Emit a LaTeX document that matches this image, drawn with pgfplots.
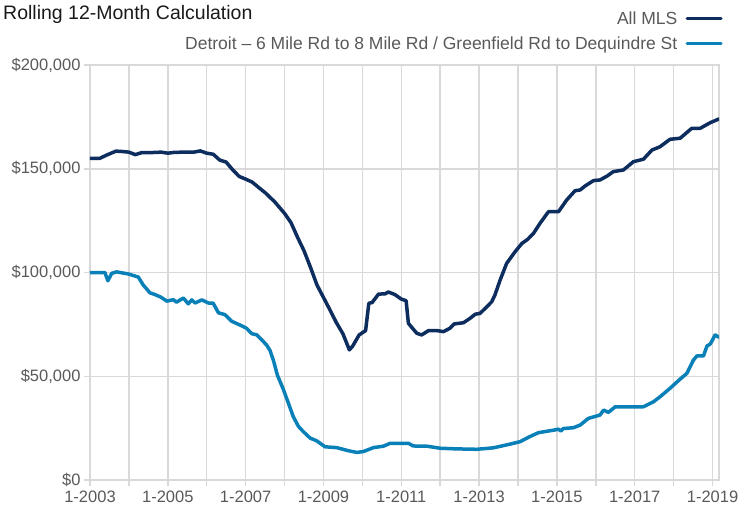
\documentclass[border=0pt]{standalone}
\usepackage{fontspec}
\setmainfont{Liberation Sans}
\usepackage{pgfplots}
\pgfplotsset{compat=1.18}
\definecolor{navy}{HTML}{0C2D5E}
\definecolor{lblue}{HTML}{0A80B8}
\definecolor{gridgray}{HTML}{D9D9D9}
\definecolor{txtgray}{HTML}{595959}
\begin{document}
\begin{tikzpicture}[x=1pt,y=1pt]
\useasboundingbox (0,0) rectangle (738,515);
\node[anchor=base west, font=\fontsize{19.5}{22}\selectfont, text=black!90, inner sep=0pt] at (3,495) {Rolling 12-Month Calculation};
\begin{axis}[at={(90pt,35pt)}, anchor=south west, scale only axis, width=629pt, height=415pt,
 xmin=0, xmax=194, ymin=0, ymax=200000,
 xtick={0,12,...,192},
 xticklabels={1-2003,,1-2005,,1-2007,,1-2009,,1-2011,,1-2013,,1-2015,,1-2017,,1-2019},
 ytick={0,50000,100000,150000,200000},
 yticklabels={{\$0},{\$50,000},{\$100,000},{\$150,000},{\$200,000}},
 scaled y ticks=false,
 grid=major, major grid style={gridgray, line width=1.5pt},
 axis line style={gridgray, line width=1.5pt},
 tick style={gridgray, line width=1.5pt}, tick align=outside, major tick length=6pt,
 tick pos=left,
 xticklabel style={yshift=-1pt},
 ticklabel style={text=txtgray, font=\fontsize{16.5}{19}\selectfont},
 legend style={at={(rel axis cs:1.006,1.134)}, anchor=north east, draw=none, fill=none,
   font=\fontsize{17.5}{20}\selectfont, text=txtgray, row sep=7pt, inner sep=0pt},
 legend cell align=right,
 legend plot pos=right,
 legend image code/.code={\path (0pt,0pt); \draw[#1, line width=3pt] (6pt,0pt) -- (40pt,0pt);},
 every axis plot/.append style={line width=3.5pt, line join=round, line cap=round},
]
\addplot[navy] coordinates {
(0,155000)(3,155000)(5,156500)(8,158500)(10,158300)(12,158000)(14,156800)(16,157800)
(19,157800)(22,158000)(24,157500)(26,157900)(29,158000)(32,158000)(34,158600)(36,157500)
(38,157000)(40,154200)(42,153200)(44,149500)(46,146300)(48,145000)(50,143600)(52,141000)
(54,138500)(57,134000)(60,128500)(62,124000)(64,117000)(66,110500)(68,102500)(70,94000)
(72,88000)(74,82000)(76,75800)(78,70500)(80,62700)(81,64500)(83,69900)(85,72000)
(86,85200)(87,85500)(89,89600)(91,89700)(92,90600)(94,89400)(96,87200)(97.5,86400)
(98.2,75500)(99,74000)(100.8,70700)(102.3,69900)(104.4,72000)(107,72000)(109,71500)
(111,73100)(112.3,75200)(115.2,75800)(117.2,77900)(118.8,79900)(120.3,80300)(122.4,83500)
(123.9,85900)(124.9,89200)(126.5,96400)(128.5,104400)(131.1,110000)(133.2,114000)
(135,116000)(136.8,118900)(138.8,123700)(141.4,129300)(144.5,129300)(147,134900)
(149.6,139400)(151.2,139800)(152.7,141700)(155.3,144300)(157.3,144600)(159.5,146500)
(161.4,148600)(164.5,149400)(167.6,153400)(170.7,154600)(173.3,159000)(175.8,160600)
(178.9,164200)(182,164700)(185.6,169500)(188.2,169500)(191.3,172200)(194,174000)
};
\addlegendentry{All MLS}
\addplot[lblue] coordinates {
(0,100000)(4.6,100000)(5.5,96000)(6.7,99600)(8.2,100300)(11.8,99300)(14.9,97800)
(16.4,94000)(18.5,90200)(20,89400)(22,88000)(23.7,86200)(25.7,86900)(26.7,85700)
(28.8,87700)(30.3,84900)(31.4,86800)(32.4,85300)(34.5,86800)(36.5,85300)(38,85200)
(39.6,80600)(41.6,79700)(43.7,76500)(46.8,74300)(48.3,73100)(49.9,70500)(51.4,70000)
(53,67500)(54.5,65000)(55.5,62500)(56.6,57500)(57.8,50500)(59.6,43800)(61.2,37000)
(62.7,30500)(64.3,25800)(65.8,23300)(67.9,20200)(69.9,18900)(72.5,16000)(76.1,15600)
(79.7,14100)(82.3,13300)(84.3,13700)(87.4,15600)(90.5,16300)(92.6,17700)(98.2,17700)
(99.7,16400)(103.9,16300)(108,15300)(113,15000)(119.3,14800)(124.4,15500)(129.6,17300)
(132.7,18500)(135.5,20800)(138.3,22800)(142.9,24000)(144.5,24500)(145.2,23600)(146,24800)
(149.1,25200)(151.2,26500)(153.7,29700)(157.3,31300)(158.4,33700)(159.9,32600)(162,35300)
(170.7,35300)(173.8,37700)(175.8,40100)(178.9,44200)(182,48600)(184.1,51400)(186.1,57800)
(187.2,59800)(189.2,59800)(190.3,64600)(191.3,65500)(192.8,69900)(194,68800)
};
\addlegendentry{Detroit -- 6 Mile Rd to 8 Mile Rd / Greenfield Rd to Dequindre St}
\end{axis}
\end{tikzpicture}
\end{document}
